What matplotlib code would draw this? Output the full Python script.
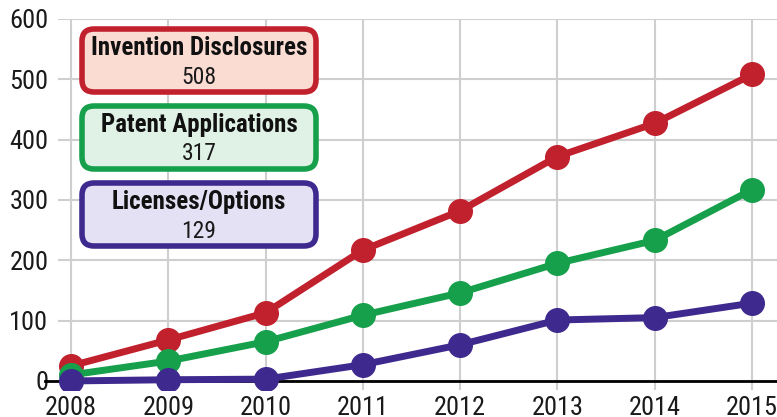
import matplotlib.pyplot as plt
from matplotlib.patches import FancyBboxPatch

years = [2008, 2009, 2010, 2011, 2012, 2013, 2014, 2015]
disclosures = [25, 68, 113, 217, 282, 372, 427, 508]
applications = [10, 33, 65, 109, 146, 195, 233, 317]
licenses = [0, 2, 3, 27, 60, 101, 105, 129]

series_names = ['Invention Disclosures', 'Patent Applications', 'Licenses/Options']
series_data = [disclosures, applications, licenses]
line_colors = ['#c1202d', '#16a04b', '#3e2a8e']
fill_colors = ['#fadcd3', '#e0f1e5', '#e5e1f4']

W, H = 777, 417
fig = plt.figure(figsize=(W / 100, H / 100), dpi=100)
# axes in pixel coords: left 58, right 777, top 19, bottom 390
ax = fig.add_axes([58 / W, 1 - 390 / H, (777 - 58) / W, (390 - 19) / H])

font = ['Roboto Condensed', 'DejaVu Sans']

for vals, c in zip(series_data, line_colors):
    ax.plot(years, vals, color=c, linewidth=5, marker='o', markersize=17,
            solid_capstyle='round', zorder=3)

ax.set_xlim(2007.866, 2015.257)
ax.set_ylim(-15, 600)
ax.set_xticks(years)
ax.set_yticks([0, 100, 200, 300, 400, 500, 600])
ax.grid(True, color='#cfcfcf', linewidth=1.5)
ax.set_axisbelow(True)
for s in ax.spines.values():
    s.set_visible(False)
ax.tick_params(axis='both', length=0, colors='#1a1a1a')
ax.tick_params(axis='x', pad=4)
ax.tick_params(axis='y', pad=7)
for lab in ax.get_xticklabels() + ax.get_yticklabels():
    lab.set_family(font)
    lab.set_fontsize(19)

# zero line, runs a bit left of the plot area
ax.axhline(0, xmin=-13 / 719, xmax=1, color='black', linewidth=2, clip_on=False, zorder=2)

# overlay in pixel units for the legend boxes
ov = fig.add_axes([0, 0, 1, 1], zorder=5)
ov.set_xlim(0, W)
ov.set_ylim(H, 0)
ov.axis('off')

box_tops = [29, 106, 183]
totals = [disclosures[-1], applications[-1], licenses[-1]]
for name, tot, top, ec, fc in zip(series_names, totals, box_tops, line_colors, fill_colors):
    x0, x1 = 82, 316
    box = FancyBboxPatch((x0, top), x1 - x0, 63,
                         boxstyle='round,pad=0,rounding_size=12',
                         facecolor=fc, edgecolor=ec, linewidth=4)
    ov.add_patch(box)
    ov.text(199, top + 19, name, ha='center', va='center',
            fontsize=18, fontweight='bold', family=font, color='#111111')
    ov.text(199, top + 48, str(tot), ha='center', va='center',
            fontsize=17, family=font, color='#1a1a1a')

fig.savefig('out.png', dpi=100)
